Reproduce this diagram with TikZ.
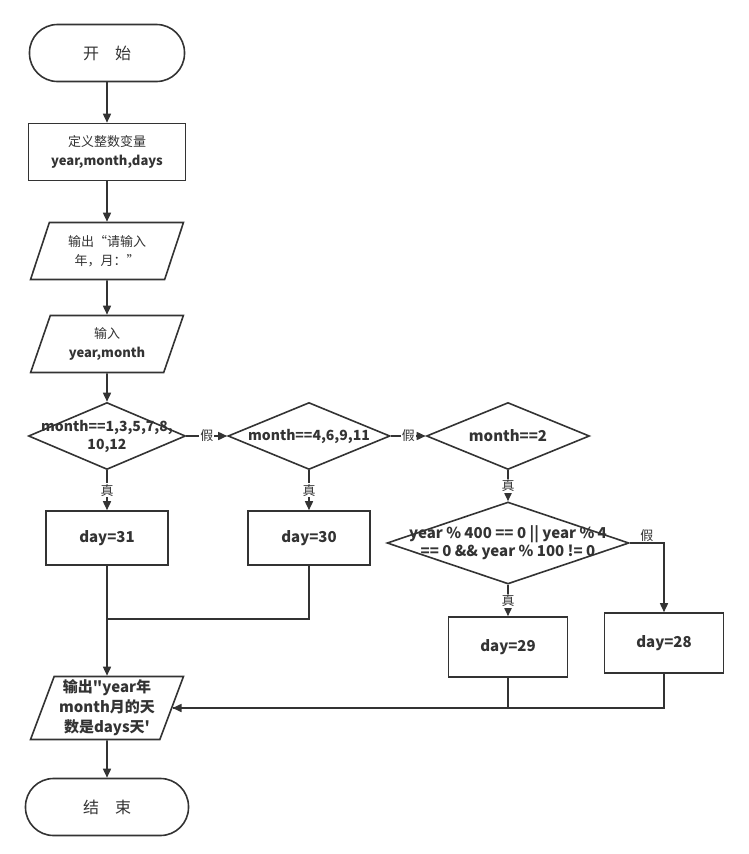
\documentclass[tikz,border=0pt]{standalone}
\usepackage{fontspec}
\setmainfont{Noto Sans CJK SC}[Ligatures=TeXOff]
\usetikzlibrary{shapes.geometric,arrows.meta}

\begin{document}
\begin{tikzpicture}[x=1pt, y=-1pt, line width=1.6pt, color=black!80,
  every node/.style={align=center, font=\fontsize{13}{19}\selectfont},
  terminal/.style={draw, rounded corners=28pt, minimum width=155pt, minimum height=57pt},
  process/.style={draw, minimum width=157pt, minimum height=57pt},
  io/.style={draw, trapezium, trapezium left angle=70, trapezium right angle=110,
    trapezium stretches=true, minimum width=153pt, minimum height=57pt},
  decision/.style={draw, diamond, inner sep=0pt, minimum width=#1, minimum height=67pt},
  dtext/.style={font=\fontsize{14}{18}\selectfont\bfseries},
  daybox/.style={draw, minimum width=122pt, minimum height=54pt, font=\fontsize{15}{15}\selectfont\bfseries},
  flag/.style={fill=white, inner sep=1pt, font=\fontsize{13}{13}\selectfont},
  arr/.style={-{Triangle[length=9pt,width=8pt]}}]
  \useasboundingbox (0,0) rectangle (749,854);

  % 顺序部分
  \node[terminal, font=\fontsize{16}{16}\selectfont] (start) at (107,53) {开\quad 始};
  \node[process] (def) at (107,152) {定义整数变量\\\textbf{year,month,days}};
  \node[io] (ask) at (107,251) {输出“请输入\\年，月：”};
  \node[io] (inp) at (107,344) {输入\\\textbf{year,month}};

  % 判断
  \node[decision=157pt] (d1) at (107,436) {};
  \node[dtext] (d1t) at (d1) {month==1,3,5,7,8,\\10,12};
  \node[decision=162pt] (d2) at (309,436) {};
  \node[dtext] (d2t) at (d2) {month==4,6,9,11};
  \node[decision=163pt] (d3) at (508,436) {};
  \node[dtext, font=\fontsize{15}{18}\selectfont\bfseries] (d3t) at (d3) {month==2};
  \node[decision=242pt, minimum height=82pt] (d4) at (508,543) {};
  \node[dtext, font=\fontsize{15}{18}\selectfont\bfseries] (d4t) at (d4)
    {year \% 400 == 0 || year \% 4\\== 0 \&\& year \% 100 != 0};

  \node[daybox] (day31) at (107,538) {day=31};
  \node[daybox] (day30) at (309,538) {day=30};
  \node[daybox, minimum width=119pt, minimum height=60pt] (day29) at (508,647) {day=29};
  \node[daybox, minimum width=119pt, minimum height=60pt] (day28) at (664,643) {day=28};

  \node[io, minimum height=63pt, font=\fontsize{15}{20}\selectfont\bfseries] (out) at (107,708)
    {输出"year年\\month月的天\\数是days天'};
  \node[terminal, font=\fontsize{16}{16}\selectfont, minimum width=163pt] (end) at (107,807) {结\quad 束};

  \draw[arr] (start) -- (def);
  \draw[arr] (def) -- (ask);
  \draw[arr] (ask) -- (inp);
  \draw[arr] (inp) -- (d1);

  \draw[arr] (d1.east) -- node[flag] {假} (d2.west);
  \draw[arr] (d2.east) -- node[flag] {假} (d3.west);
  \draw[arr] (d1.south) -- node[flag] {真} (day31.north);
  \draw[arr] (d2.south) -- node[flag] {真} (day30.north);
  \draw[arr] (d3.south) -- node[flag] {真} (d4.north);
  \draw[arr] (d4.south) -- node[flag] {真} (day29.north);
  \draw[arr] (d4.east) -| node[pos=0.25, above, flag, fill=none] {假} (day28.north);

  % 汇合
  \coordinate (j1) at (107,619);
  \draw (day30.south) |- (j1);
  \draw[arr] (day31.south) -- (out.north);
  \draw (day29.south) |- (out.east);
  \draw[arr] (day28.south) |- (out.east);
  \draw[arr] (out) -- (end);
\end{tikzpicture}
\end{document}
